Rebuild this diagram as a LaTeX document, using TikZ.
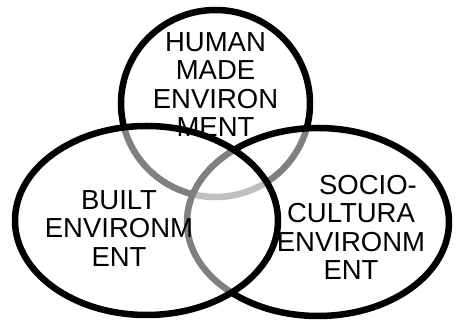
\documentclass[tikz,border=0pt]{standalone}
\usepackage{fontspec}
\setmainfont{Liberation Sans}
\begin{document}
\begin{tikzpicture}[x=1pt,y=-1pt,
  ring/.style={draw=black, line width=6.5pt, fill=white},
  seethru/.style={ring, fill opacity=0.5},
  lbl/.style={align=center, inner sep=0pt, font=\fontsize{27.5pt}{28.5pt}\selectfont}]
\useasboundingbox (0,0) rectangle (456,320);
\path[ring] (215.5,103.5) ellipse [x radius=94.5pt, y radius=93.5pt];
\path[seethru] (318,222) ellipse [x radius=131pt, y radius=94pt];
\path[seethru] (146.5,220.5) ellipse [x radius=131.5pt, y radius=94.5pt];
\node[lbl] (human) at (215.5,84.6) {HUMAN\\MADE\\ENVIRON\\MENT};
\node[lbl] (built) at (119,228.4) {BUILT\\ENVIRONM\\ENT};
\node[lbl] (socio) at (351,227.6) {\hspace*{34pt}SOCIO-\\CULTURA\\ENVIRONM\\ENT};
\end{tikzpicture}
\end{document}
